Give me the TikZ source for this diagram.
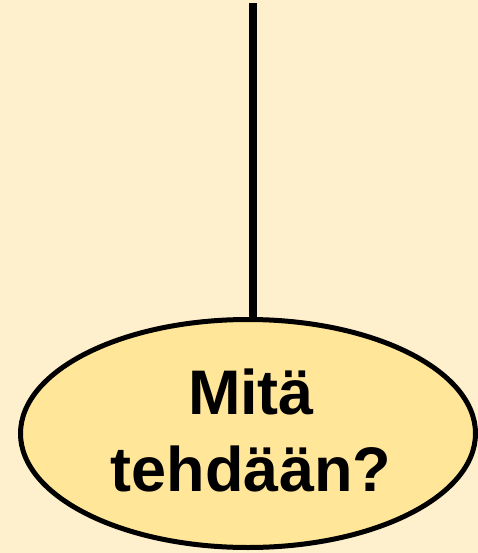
\documentclass[tikz,border=0pt]{standalone}
\usepackage{fontspec}
\setmainfont{Liberation Sans}
\usetikzlibrary{shapes.geometric}
\definecolor{bgcream}{HTML}{FFF0CD}
\definecolor{ovalfill}{HTML}{FFE699}
\tikzset{
  decision/.style={ellipse, draw=black, line width=5pt, fill=ovalfill, inner sep=0pt,
    minimum width=455pt, minimum height=228pt},
  qtext/.style={align=center, inner sep=0pt, font=\fontsize{63pt}{77pt}\selectfont\bfseries},
  link/.style={draw=black, line width=8pt}
}
\begin{document}
\begin{tikzpicture}[x=1pt,y=1pt]
\fill[bgcream] (0,0) rectangle (478,-553);
\useasboundingbox (0,0) rectangle (478,-553);
\node[decision] (q) at (248,-433.5) {};
\node[qtext] (qt) at (251,-430) {Mitä\\tehdään?};
\coordinate (top) at (252.5,-3);
\draw[link] (top) -- (top |- q.north);
\end{tikzpicture}
\end{document}
